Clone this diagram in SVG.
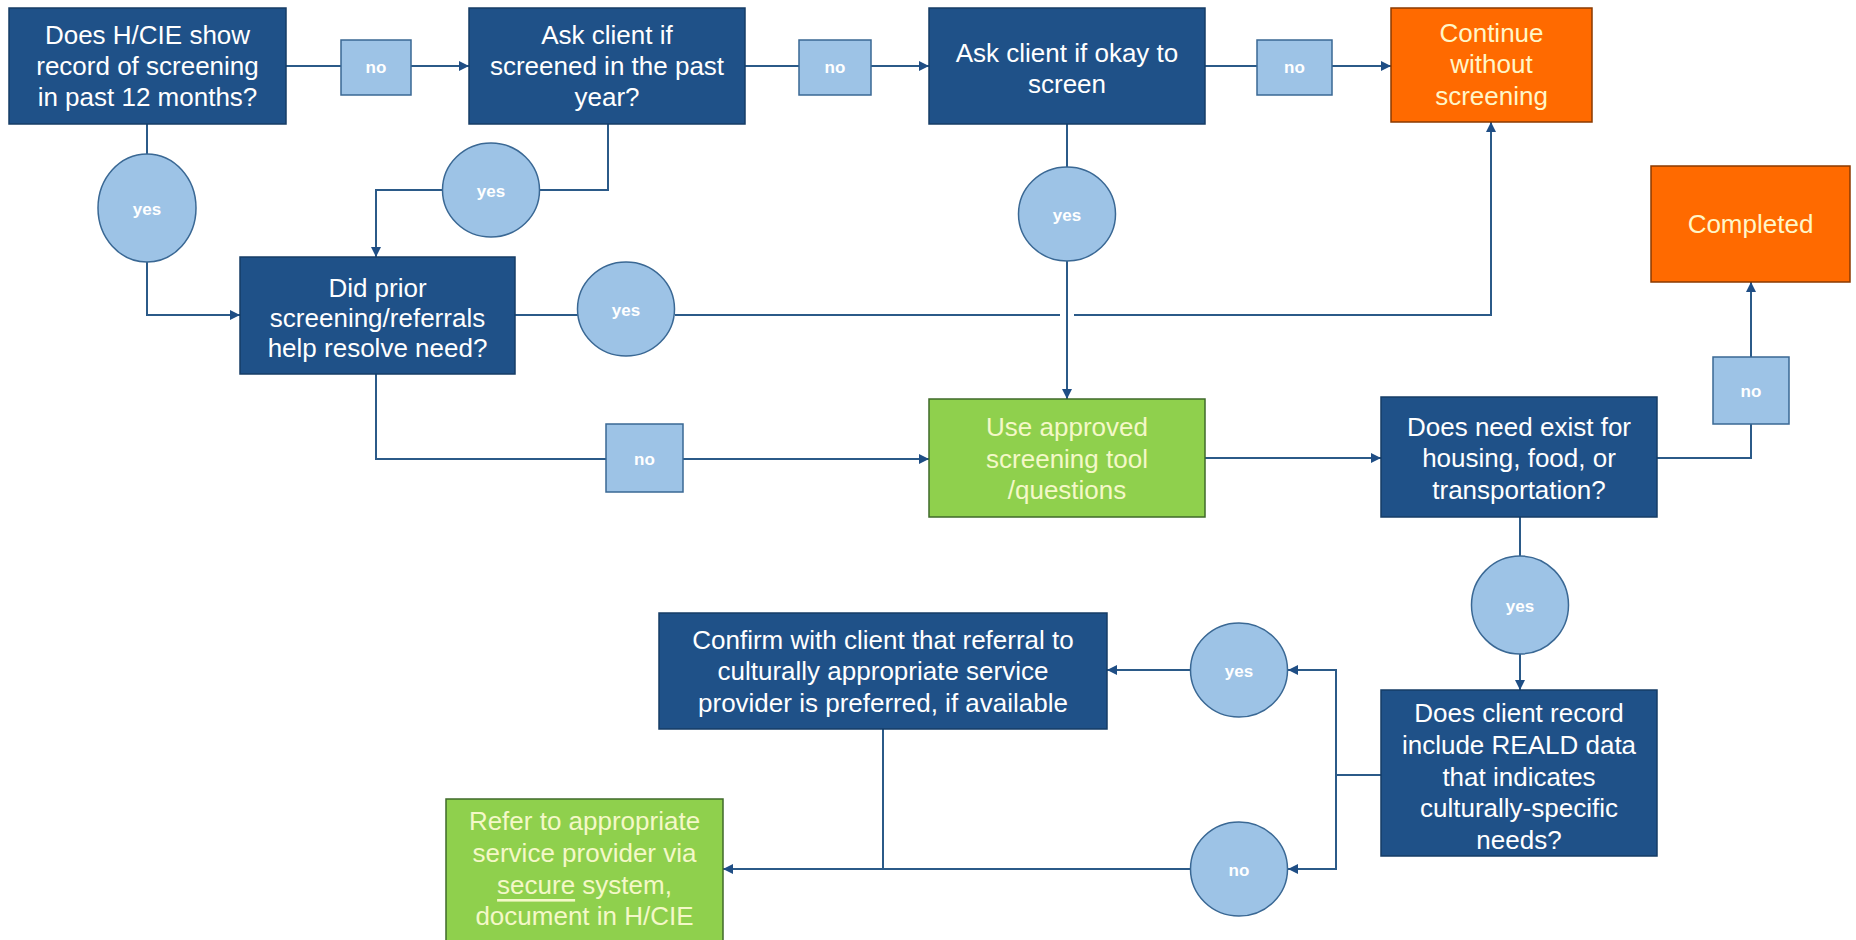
<svg xmlns="http://www.w3.org/2000/svg" width="1856" height="940" viewBox="0 0 1856 940">
<defs>
<marker id="arr" viewBox="0 0 10 10" refX="10" refY="5" markerWidth="5" markerHeight="5" orient="auto" markerUnits="strokeWidth">
<path d="M0,0 L10,5 L0,10 z" fill="#1F4E85"/>
</marker>
<style>
.dk{fill:#1F5188;stroke:#163d66;stroke-width:1.5}
.or{fill:#FF6A00;stroke:#8a3a00;stroke-width:1.5}
.gr{fill:#8FD04D;stroke:#3f6a2a;stroke-width:1.5}
.lb{fill:#9DC3E6;stroke:#3A6894;stroke-width:1.5}
.t{font-family:"Liberation Sans Narrow","Arial Narrow","Liberation Sans",sans-serif;font-size:26px;text-anchor:middle;dominant-baseline:central}
.tw{fill:#ffffff}
.ty{fill:#FFF6C8}
.tg{fill:#F4F8C8}
.s{font-family:"Liberation Sans Narrow","Arial Narrow","Liberation Sans",sans-serif;font-size:17px;font-weight:bold;fill:#ffffff;text-anchor:middle;dominant-baseline:central}
.c{fill:none;stroke:#2B5A88;stroke-width:2}
.ca{fill:none;stroke:#2B5A88;stroke-width:2;marker-end:url(#arr)}
</style>
</defs>
<rect width="1856" height="940" fill="#ffffff"/>

<g id="connectors">
<path class="c" d="M286,66 H341"/>
<path class="ca" d="M411,66 H469"/>
<path class="c" d="M745,66 H799"/>
<path class="ca" d="M871,66 H929"/>
<path class="c" d="M1205,66 H1257"/>
<path class="ca" d="M1332,66 H1391"/>
<path class="c" d="M147,124 V154"/>
<path class="ca" d="M147,262 V315 H240"/>
<path class="c" d="M608,124 V190 H540"/>
<path class="ca" d="M443,190 H376 V257"/>
<path class="c" d="M515,315 H578"/>
<path class="c" d="M675,315 H1060"/>
<path class="ca" d="M1074,315 H1491 V122"/>
<path class="c" d="M1067,124 V167"/>
<path class="ca" d="M1067,261 V399"/>
<path class="c" d="M376,374 V459 H606"/>
<path class="ca" d="M683,459 H929"/>
<path class="ca" d="M1205,458 H1381"/>
<path class="c" d="M1657,458 H1751 V424"/>
<path class="ca" d="M1751,357 V282"/>
<path class="c" d="M1520,517 V556"/>
<path class="ca" d="M1520,654 V690"/>
<path class="c" d="M1381,775 H1336"/>
<path class="ca" d="M1336,775 V670 H1288"/>
<path class="ca" d="M1336,775 V869 H1288"/>
<path class="ca" d="M1191,670 H1107"/>
<path class="ca" d="M1191,869 H723"/>
<path class="c" d="M883,729 V869"/>
</g>

<g id="n1">
<rect class="dk" x="9" y="8" width="277" height="116"/>
<text class="t tw" x="147.5" y="35">Does H/CIE show</text>
<text class="t tw" x="147.5" y="66">record of screening</text>
<text class="t tw" x="147.5" y="97">in past 12 months?</text>
</g>
<g id="l1"><rect class="lb" x="341" y="40" width="70" height="55"/><text class="s" x="376" y="67">no</text></g>
<g id="n2">
<rect class="dk" x="469" y="8" width="276" height="116"/>
<text class="t tw" x="607" y="35">Ask client if</text>
<text class="t tw" x="607" y="66">screened in the past</text>
<text class="t tw" x="607" y="97">year?</text>
</g>
<g id="l2"><rect class="lb" x="799" y="40" width="72" height="55"/><text class="s" x="835" y="67">no</text></g>
<g id="n3">
<rect class="dk" x="929" y="8" width="276" height="116"/>
<text class="t tw" x="1067" y="53">Ask client if okay to</text>
<text class="t tw" x="1067" y="84">screen</text>
</g>
<g id="l3"><rect class="lb" x="1257" y="40" width="75" height="55"/><text class="s" x="1294.5" y="67">no</text></g>
<g id="n4">
<rect class="or" x="1391" y="8" width="201" height="114"/>
<text class="t ty" x="1491.5" y="33">Continue</text>
<text class="t ty" x="1491.5" y="64">without</text>
<text class="t ty" x="1491.5" y="96">screening</text>
</g>
<g id="n5">
<rect class="or" x="1651" y="166" width="199" height="116"/>
<text class="t ty" x="1750.5" y="224">Completed</text>
</g>
<g id="y1"><ellipse class="lb" cx="147" cy="208" rx="49" ry="54"/><text class="s" x="147" y="209">yes</text></g>
<g id="y2"><ellipse class="lb" cx="491" cy="190" rx="48.5" ry="47"/><text class="s" x="491" y="191">yes</text></g>
<g id="n6">
<rect class="dk" x="240" y="257" width="275" height="117"/>
<text class="t tw" x="377.5" y="288">Did prior</text>
<text class="t tw" x="377.5" y="318">screening/referrals</text>
<text class="t tw" x="377.5" y="348">help resolve need?</text>
</g>
<g id="y4"><ellipse class="lb" cx="626" cy="309" rx="48.5" ry="47"/><text class="s" x="626" y="310">yes</text></g>
<g id="y3"><ellipse class="lb" cx="1067" cy="214" rx="48.5" ry="47"/><text class="s" x="1067" y="215">yes</text></g>
<g id="l4"><rect class="lb" x="606" y="424" width="77" height="68"/><text class="s" x="644.5" y="459">no</text></g>
<g id="n7">
<rect class="gr" x="929" y="399" width="276" height="118"/>
<text class="t tg" x="1067" y="427">Use approved</text>
<text class="t tg" x="1067" y="459">screening tool</text>
<text class="t tg" x="1067" y="490">/questions</text>
</g>
<g id="n8">
<rect class="dk" x="1381" y="397" width="276" height="120"/>
<text class="t tw" x="1519" y="427">Does need exist for</text>
<text class="t tw" x="1519" y="458">housing, food, or</text>
<text class="t tw" x="1519" y="490">transportation?</text>
</g>
<g id="l5"><rect class="lb" x="1713" y="357" width="76" height="67"/><text class="s" x="1751" y="391">no</text></g>
<g id="y5"><ellipse class="lb" cx="1520" cy="605" rx="48.5" ry="49"/><text class="s" x="1520" y="606">yes</text></g>
<g id="n9">
<rect class="dk" x="1381" y="690" width="276" height="166"/>
<text class="t tw" x="1519" y="713">Does client record</text>
<text class="t tw" x="1519" y="745">include REALD data</text>
<text class="t tw" x="1519" y="777">that indicates</text>
<text class="t tw" x="1519" y="808">culturally-specific</text>
<text class="t tw" x="1519" y="840">needs?</text>
</g>
<g id="y6"><ellipse class="lb" cx="1239" cy="670" rx="48.5" ry="47"/><text class="s" x="1239" y="671">yes</text></g>
<g id="l7"><ellipse class="lb" cx="1239" cy="869" rx="48.5" ry="47"/><text class="s" x="1239" y="870">no</text></g>
<g id="n10">
<rect class="dk" x="659" y="613" width="448" height="116"/>
<text class="t tw" x="883" y="640">Confirm with client that referral to</text>
<text class="t tw" x="883" y="671">culturally appropriate service</text>
<text class="t tw" x="883" y="703">provider is preferred, if available</text>
</g>
<g id="n11">
<rect class="gr" x="446" y="799" width="277" height="146"/>
<text class="t tg" x="584.5" y="821">Refer to appropriate</text>
<text class="t tg" x="584.5" y="853">service provider via</text>
<text class="t tg" x="584.5" y="885"><tspan text-decoration="underline">secure</tspan> system,</text>
<text class="t tg" x="584.5" y="916">document in H/CIE</text>
</g>
</svg>
